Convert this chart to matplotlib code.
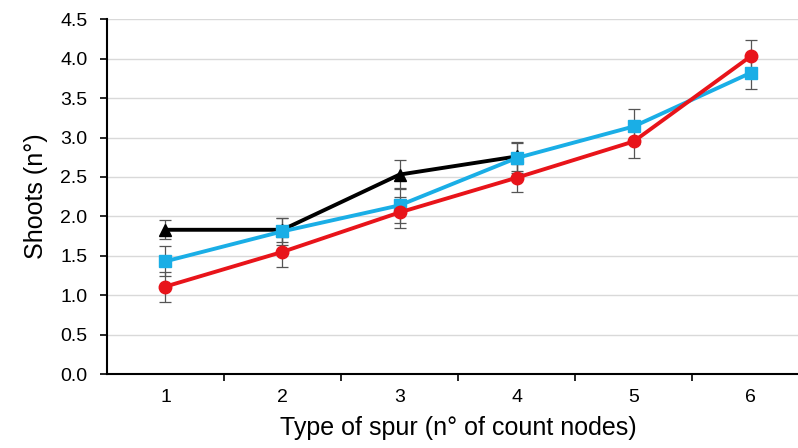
import matplotlib.pyplot as plt
import numpy as np

plt.rcParams['font.family'] = ['Liberation Sans', 'DejaVu Sans']

# data
spur = ['1', '2', '3', '4', '5', '6']
red_vals = [1.11, 1.55, 2.05, 2.49, 2.95, 4.03]
red_err = [0.19, 0.19, 0.20, 0.18, 0.21, 0.21]
blue_vals = [1.43, 1.81, 2.14, 2.74, 3.14, 3.82]
blue_err = [0.19, 0.17, 0.22, 0.19, 0.22, 0.20]
black_vals = [1.83, 1.83, 2.53, 2.76]
black_err = [0.12, 0.15, 0.18, 0.18]

fig = plt.figure(figsize=(7.98, 4.48), dpi=100)
ax = fig.add_axes([0.134, 0.165, 0.88, 0.792])

x = np.arange(len(spur))
series = [
    (black_vals, black_err, 'black', '^'),
    (blue_vals, blue_err, '#1aaee6', 's'),
    (red_vals, red_err, '#e8141a', 'o'),
]
for z, (vals, err, col, mk) in enumerate(series):
    xx = x[:len(vals)]
    ax.errorbar(xx, vals, yerr=err, fmt='none', ecolor='#555555',
                elinewidth=0.9, capsize=4, capthick=0.9, zorder=2 + z)
    ax.plot(xx, vals, color=col, marker=mk, lw=2.8, ms=9,
            markeredgecolor=col, zorder=5 + z)

ax.set_xlim(-0.5, 5.5)
ax.set_ylim(0, 4.5)
ax.set_yticks(np.arange(0, 4.51, 0.5))
ax.set_yticklabels(['%.1f' % v for v in np.arange(0, 4.51, 0.5)])
ax.set_xticks(x)
ax.set_xticklabels(spur)
ax.set_xticks(np.arange(0.5, 5.5, 1), minor=True)
ax.tick_params(axis='x', which='major', length=0, pad=11, labelsize=14)
ax.tick_params(axis='x', which='minor', length=5, width=1.2, direction='out')
ax.tick_params(axis='y', length=5, width=1.2, labelsize=14, pad=9)

ax.grid(axis='y', color='#d9d9d9', lw=1)
ax.set_axisbelow(True)
for s in ['top', 'right']:
    ax.spines[s].set_visible(False)
for s in ['left', 'bottom']:
    ax.spines[s].set_linewidth(1.5)

ax.set_ylabel('Shoots (n°)', fontsize=18, labelpad=9)
ax.set_xlabel('Type of spur (n° of count nodes)', fontsize=18, labelpad=7)

fig.savefig('out.png', dpi=100)
